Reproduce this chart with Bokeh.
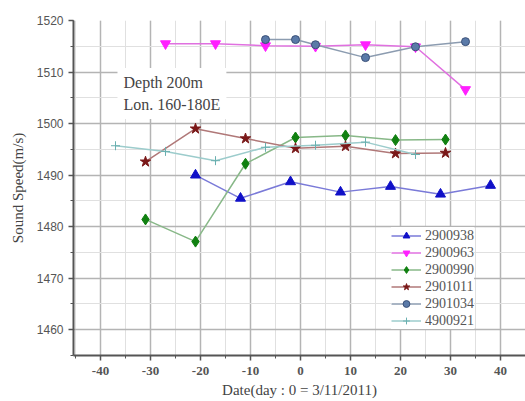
from bokeh.plotting import figure
from bokeh.models import Legend, LegendItem, Label, SingleIntervalTicker, PrintfTickFormatter
from bokeh.embed import file_html
from bokeh.resources import INLINE

# Data (day relative to 3/11/2011, sound speed m/s)
x_2900938 = [-21, -12, -2, 8, 18, 28, 38]
y_2900938 = [1490.0, 1485.5, 1488.7, 1486.7, 1487.8, 1486.3, 1488.0]

x_2900963 = [-27, -17, -7, 3, 13, 23, 33]
y_2900963 = [1515.5, 1515.5, 1515.1, 1515.0, 1515.3, 1514.9, 1506.6]

x_2900990 = [-31, -21, -11, -1, 9, 19, 29]
y_2900990 = [1481.4, 1477.1, 1492.2, 1497.3, 1497.7, 1496.8, 1496.9]

x_2901011 = [-31, -21, -11, -1, 9, 19, 29]
y_2901011 = [1492.6, 1499.0, 1497.1, 1495.2, 1495.6, 1494.2, 1494.3]

x_2901034 = [-7, -1, 3, 13, 23, 33]
y_2901034 = [1516.3, 1516.3, 1515.3, 1512.8, 1514.9, 1515.9]

x_4900921 = [-37, -27, -17, -7, 3, 13, 23]
y_4900921 = [1495.7, 1494.6, 1492.8, 1495.4, 1495.8, 1496.4, 1494.0]

series = [
    ("2900938", x_2900938, y_2900938, "triangle", "#1010c8", "#1010c8", "#7a7ad8", 10),
    ("2900963", x_2900963, y_2900963, "inverted_triangle", "#ff20ff", "#ff20ff", "#e070e0", 10),
    ("2900990", x_2900990, y_2900990, "diamond", "#108010", "#108010", "#88b888", 11),
    ("2901011", x_2901011, y_2901011, "star", "#7a1818", "#7a1818", "#b07878", 11),
    ("2901034", x_2901034, y_2901034, "circle", "#5a7aa8", "#3a5078", "#8c9cb0", 8),
    ("4900921", x_4900921, y_4900921, "cross", "#6ab0b0", "#6ab0b0", "#9ccccc", 9),
]

SERIF = "Liberation Serif"
SANS = "Liberation Sans"

p = figure(width=525, height=401, output_backend="svg", toolbar_location=None,
           x_range=(-45.4, 45), y_range=(1455, 1520),
           min_border_left=73, min_border_right=0, min_border_top=20, min_border_bottom=46)
p.outline_line_color = None
p.background_fill_color = "white"

p.xaxis.ticker = SingleIntervalTicker(interval=10, num_minor_ticks=2)
p.yaxis.ticker = SingleIntervalTicker(interval=10, num_minor_ticks=2)
p.xaxis.formatter = PrintfTickFormatter(format="%d")
p.yaxis.formatter = PrintfTickFormatter(format="%d")

for ax in (p.xaxis[0], p.yaxis[0]):
    ax.axis_line_color = "#555555"
    ax.axis_line_width = 2
    ax.major_tick_line_color = "#555555"
    ax.minor_tick_line_color = "#555555"
    ax.major_tick_line_width = 1.5
    ax.major_tick_out = 5
    ax.major_tick_in = 0
    ax.minor_tick_out = 3
    ax.minor_tick_in = 0
    ax.major_label_text_color = "#555555"
    ax.axis_label_text_color = "#444444"
    ax.axis_label_text_font_style = "normal"

p.xaxis.major_label_text_font = SERIF
p.xaxis.major_label_text_font_size = "13px"
p.xaxis.major_label_text_font_style = "bold"
p.xaxis.major_label_standoff = 6
p.yaxis.major_label_text_font = SANS
p.yaxis.major_label_text_font_size = "12px"
p.xaxis.axis_label = "Date(day : 0 = 3/11/2011)"
p.yaxis.axis_label = "Sound Speed(m/s)"
p.xaxis.axis_label_text_font = SERIF
p.yaxis.axis_label_text_font = SERIF
p.xaxis.axis_label_text_font_size = "15px"
p.yaxis.axis_label_text_font_size = "15px"
p.xaxis.axis_label_standoff = 4
p.yaxis.axis_label_standoff = 8

for g in (p.xgrid[0], p.ygrid[0]):
    g.grid_line_color = "#b4b4b4"
    g.grid_line_width = 1.5
    g.minor_grid_line_color = "#e0e0e0"
    g.minor_grid_line_width = 1

items = []
for name, xs, ys, marker, fill, edge, lc, size in series:
    r1 = p.line(xs, ys, line_color=lc, line_width=1.5)
    r2 = p.scatter(xs, ys, marker=marker, size=size, fill_color=fill, line_color=edge, line_width=1)
    items.append(LegendItem(label=name, renderers=[r1, r2]))

legend = Legend(items=items, location=(318, 26), orientation="vertical")
legend.label_text_font = SERIF
legend.label_text_font_size = "14px"
legend.label_text_color = "#555555"
legend.glyph_width = 30
legend.glyph_height = 17
legend.label_height = 17
legend.spacing = 0
legend.padding = 4
legend.margin = 0
legend.label_standoff = 4
legend.border_line_color = None
legend.background_fill_color = "white"
legend.background_fill_alpha = 1
p.add_layout(legend, "center")

note = Label(x=-36.6, y=1510.8, text="Depth 200m\nLon. 160-180E",
             text_font=SERIF, text_font_size="16px", text_color="#444444",
             text_baseline="top", text_align="left",
             background_fill_color="white", padding=6, text_line_height=1.3)
p.add_layout(note)

open("out.html", "w").write(file_html(p, INLINE))
